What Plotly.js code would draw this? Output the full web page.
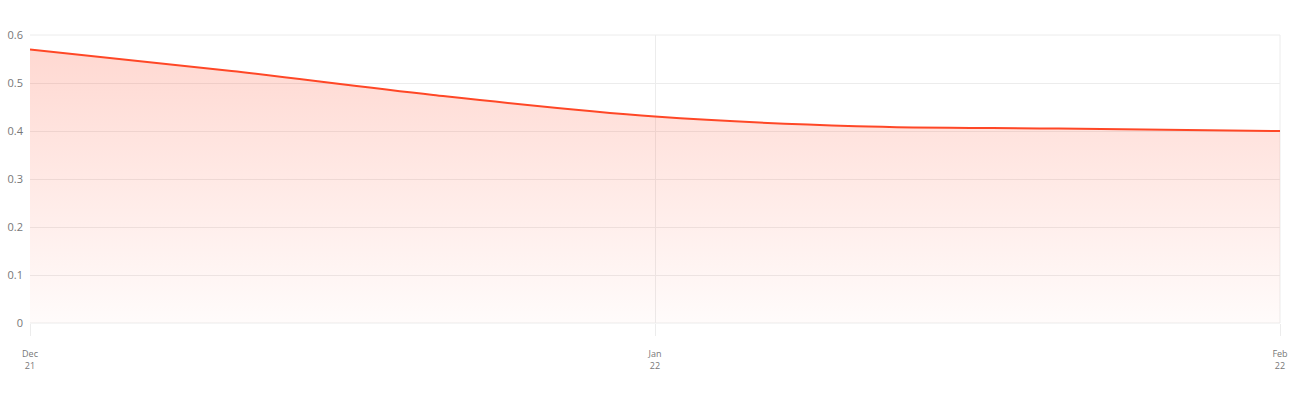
<!DOCTYPE html>
<html>
<head>
<meta charset="utf-8">
<script src="https://cdn.plot.ly/plotly-3.0.1.min.js"></script>
<style>html,body{margin:0;padding:0;background:#fff;}#chart{width:1292px;height:400px;}</style>
</head>
<body>
<div id="chart"></div>
<script>
var dates = ['2021-12-01', '2021-12-11', '2021-12-21', '2022-01-01', '2022-01-11', '2022-01-21', '2022-02-01'];
var values = [0.57, 0.525, 0.475, 0.43, 0.41, 0.405, 0.40];
var tickDates = ['2021-12-01', '2022-01-01', '2022-02-01'];
var tickLabels = ['Dec<br>21', 'Jan<br>22', 'Feb<br>22'];
var yTicks = [0, 0.1, 0.2, 0.3, 0.4, 0.5, 0.6];

var trace = {
  x: dates,
  y: values,
  type: 'scatter',
  mode: 'lines',
  line: {color: '#ff4726', width: 2, shape: 'spline', smoothing: 1},
  fill: 'tozeroy',
  fillgradient: {
    type: 'vertical',
    start: 0,
    stop: 0.57,
    colorscale: [[0, 'rgba(255,71,38,0.02)'], [1, 'rgba(255,71,38,0.21)']]
  },
  hoverinfo: 'x+y'
};

var layout = {
  width: 1292,
  height: 400,
  margin: {l: 30, r: 12, t: 35, b: 77},
  paper_bgcolor: '#fff',
  plot_bgcolor: '#fff',
  showlegend: false,
  font: {family: 'Open Sans, Noto Sans, sans-serif', color: '#777'},
  xaxis: {
    type: 'date',
    range: ['2021-12-01', '2022-02-01'],
    tickvals: tickDates,
    ticktext: tickLabels,
    showgrid: true,
    gridcolor: '#ececec',
    gridwidth: 1,
    zeroline: false,
    showline: false,
    ticks: 'outside',
    ticklen: 12,
    tickcolor: '#ececec',
    ticklabelstandoff: 10,
    tickfont: {size: 9, color: '#777'}
  },
  yaxis: {
    range: [0, 0.6],
    tickvals: yTicks,
    ticktext: yTicks.map(String),
    showgrid: true,
    gridcolor: '#ececec',
    gridwidth: 1,
    zeroline: false,
    showline: false,
    ticks: '',
    ticklabelstandoff: 6,
    tickfont: {size: 11, color: '#777'}
  },
  shapes: [
    {type: 'line', xref: 'paper', yref: 'paper', x0: 0, x1: 1, y0: 1, y1: 1, line: {color: '#ececec', width: 1}, layer: 'below'},
    {type: 'line', xref: 'paper', yref: 'paper', x0: 0, x1: 1, y0: 0, y1: 0, line: {color: '#ececec', width: 1}, layer: 'below'},
    {type: 'line', xref: 'paper', yref: 'paper', x0: 1, x1: 1, y0: 0, y1: 1, line: {color: '#ececec', width: 1}, layer: 'below'}
  ]
};

Plotly.newPlot('chart', [trace], layout, {displayModeBar: false, staticPlot: true});
</script>
</body>
</html>
